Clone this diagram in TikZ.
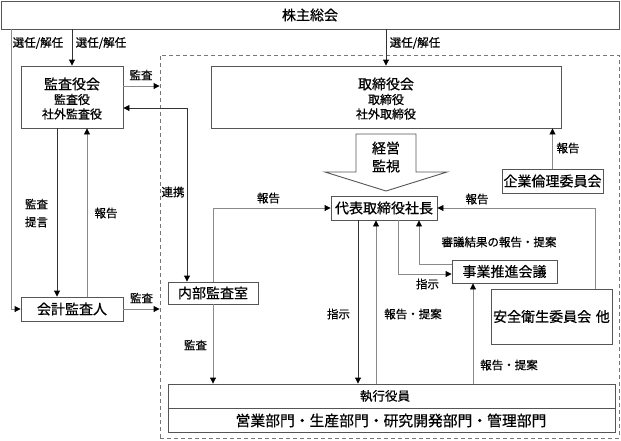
\documentclass[tikz,border=0pt]{standalone}
\usepackage{fontspec}
\setmainfont{Noto Sans CJK JP}[FakeBold=0.6]
\usetikzlibrary{arrows.meta}
\definecolor{boxc}{HTML}{555555}
\definecolor{darkl}{HTML}{333333}
\definecolor{grayl}{HTML}{8A8A8A}
\definecolor{dashc}{HTML}{777777}
\begin{document}
\begin{tikzpicture}[x=1pt,y=-1pt,
  box/.style={draw=boxc,line width=0.9pt,inner sep=0pt,fill=white},
  big/.style={font=\fontsize{14}{17}\selectfont},
  mid/.style={font=\fontsize{12}{14}\selectfont},
  small/.style={font=\fontsize{11.5}{14}\selectfont,inner sep=0pt},
  tip/.style={-{Triangle[length=6pt,width=6pt,color=black]}},
  dk/.style={tip,draw=darkl,line width=0.9pt},
  gy/.style={tip,draw=grayl,line width=0.9pt},
  gyboth/.style={{Triangle[length=6pt,width=6pt,color=black]}-{Triangle[length=6pt,width=6pt,color=black]},draw=darkl,line width=0.9pt}]
\useasboundingbox (0,0) rectangle (621,440);
\fill[white] (0,0) rectangle (621,440);
% group frame
\node[draw=dashc,line width=0.9pt,dash pattern=on 4pt off 3pt,inner sep=0pt,minimum width=459,minimum height=383] (grp) at (389.5,246.5) {};
% boxes
\node[box,big,minimum width=618,minimum height=28] (kabu) at (310,15) {株主総会};
\node[box,minimum width=102,minimum height=62] (kansa) at (72,97) {};
\node[big] (kansaT) at (72,84) {監査役会};
\node[mid] (kansaA) at (72,99.5) {監査役};
\node[mid] (kansaB) at (72,114) {社外監査役};
\node[box,minimum width=350,minimum height=62] (tori) at (386,97) {};
\node[big] (toriT) at (386,84) {取締役会};
\node[mid] (toriA) at (386,99.5) {取締役};
\node[mid] (toriB) at (386,114) {社外取締役};
\node[box,big,minimum width=101,minimum height=24] (rinri) at (552.5,181) {企業倫理委員会};
\node[box,big,minimum width=106,minimum height=24] (pres) at (384,208) {代表取締役社長};
\node[box,big,minimum width=105,minimum height=23] (jigyo) at (504.5,271.5) {事業推進会議};
\node[box,big,minimum width=121,minimum height=55] (anzen) at (551.5,316.5) {安全衛生委員会\,\,他};
\node[box,big,minimum width=90,minimum height=22] (naibu) at (213,293) {内部監査室};
\node[box,big,minimum width=102,minimum height=24] (kaikei) at (72,309) {会計監査人};
\node[box,minimum width=447,minimum height=48] (shikko) at (391.5,408) {};
\draw[draw=boxc,line width=0.9pt] (shikko.west) -- (shikko.east);
\node[font=\fontsize{12.5}{15}\selectfont] (shikkoT) at (385,396) {執行役員};
\node[font=\fontsize{14.8}{17}\selectfont] (shikkoB) at (391,420.5) {営業部門・生産部門・研究開発部門・管理部門};
% big arrow
\draw[draw=boxc,line width=0.9pt,fill=white] (356,134) -- (416,134) -- (416,172) -- (447,172) -- (386,191) -- (325,172) -- (356,172) -- cycle;
\node[align=center,font=\fontsize{14}{18}\selectfont] (keiei) at (386,157) {経営\\監視};
% helper coordinates
\coordinate (c11) at (11,0);
\coordinate (c57) at (57,0);
\coordinate (c87) at (87,0);
\coordinate (c187) at (187,0);
\coordinate (c358) at (358,0);
\coordinate (c376) at (376,0);
\coordinate (c398) at (398,0);
\coordinate (c419) at (419,0);
\coordinate (c473) at (473,0);
\coordinate (c595) at (595,0);
\coordinate (r86) at (0,86);
\coordinate (r108) at (0,108);
\coordinate (r264) at (0,264);
\coordinate (r274) at (0,274);
% connectors
\draw[dk] (kansa.north |- kabu.south) -- (kansa.north);
\draw[dk] (tori.north |- kabu.south) -- (tori.north);
\draw[gy] (c11 |- kabu.south) -- (c11 |- kaikei.west) -- (kaikei.west);
\draw[gy] (kansa.east |- r86) -- (grp.west |- r86);
\draw[gyboth] (kansa.east |- r108) -- (c187 |- r108) -- (c187 |- naibu.north);
\draw[dk] (c57 |- kansa.south) -- (c57 |- kaikei.north);
\draw[gy] (c87 |- kaikei.north) -- (c87 |- kansa.south);
\draw[gy] (kaikei.east) -- (grp.west |- kaikei.east);
\draw[gy] (rinri.north) -- (rinri.north |- tori.south);
\draw[gy] (naibu.north) -- (naibu.north |- pres.west) -- (pres.west);
\draw[gy] (c595 |- anzen.north) -- (c595 |- pres.east) -- (pres.east);
\draw[gy] (c398 |- pres.south) -- (c398 |- r274) -- (jigyo.west |- r274);
\draw[gy] (jigyo.west |- r264) -- (c419 |- r264) -- (c419 |- pres.south);
\draw[gy] (c473 |- shikko.north) -- (c473 |- jigyo.south);
\draw[dk] (c358 |- pres.south) -- (c358 |- shikko.north);
\draw[gy] (c376 |- shikko.north) -- (c376 |- pres.south);
\draw[gy] (naibu.south) -- (naibu.south |- shikko.north);
% labels
\node[small] (l1) at (38,43) {選任/解任};
\node[small] (l2) at (101,43) {選任/解任};
\node[small] (l3) at (415,43) {選任/解任};
\node[small] (l4) at (141,75) {監査};
\node[small] (l5) at (173,192) {連携};
\node[small] (l6) at (36.5,204) {監査};
\node[small] (l7) at (36.5,222) {提言};
\node[small] (l8) at (106,213) {報告};
\node[small] (l9) at (141.5,298) {監査};
\node[small] (l10) at (268.5,198) {報告};
\node[small] (l11) at (568,148) {報告};
\node[small] (l12) at (477,199) {報告};
\node[small] (l13) at (499,242) {審議結果の報告・提案};
\node[small] (l14) at (427.5,284) {指示};
\node[small] (l15) at (338.5,314) {指示};
\node[small] (l16) at (413,314) {報告・提案};
\node[small] (l17) at (509,365) {報告・提案};
\node[small] (l18) at (195.5,345) {監査};
\end{tikzpicture}
\end{document}
